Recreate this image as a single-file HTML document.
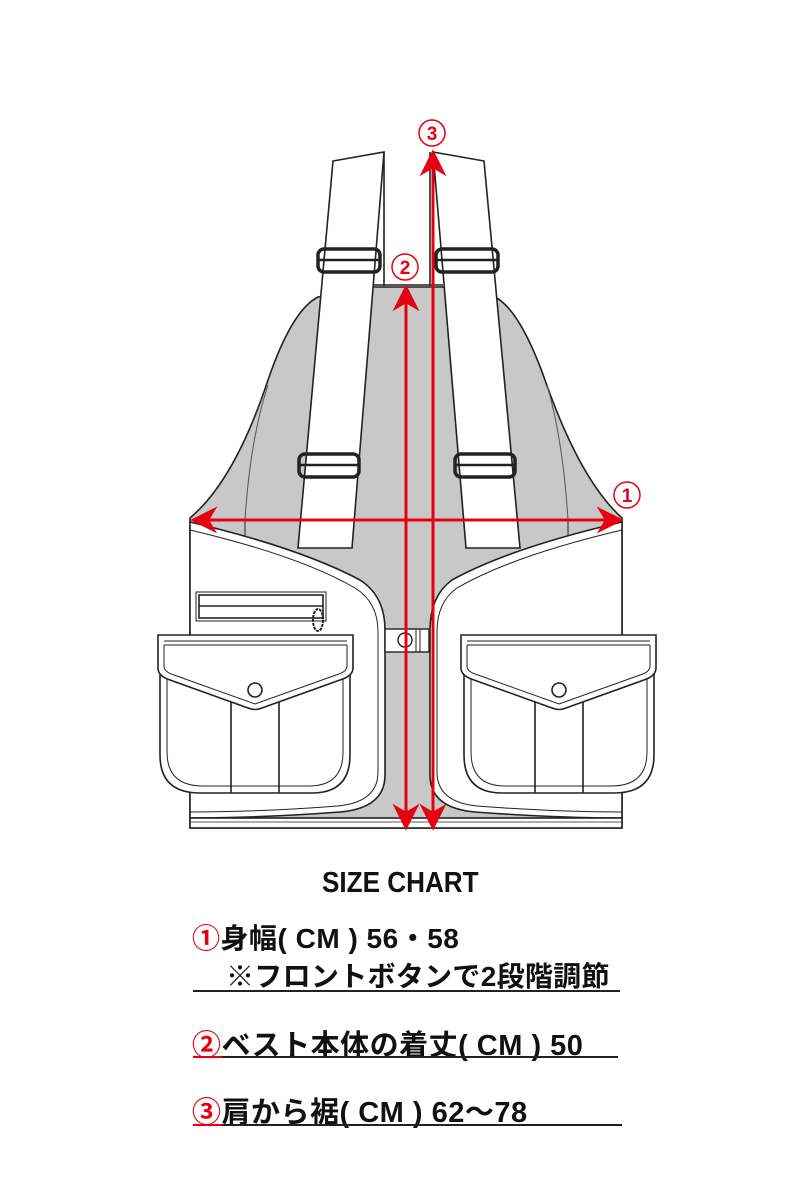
<!DOCTYPE html>
<html><head><meta charset="utf-8"><style>
html,body{margin:0;padding:0;background:#fff;width:800px;height:1200px;overflow:hidden}
.t{position:absolute;font-family:"Liberation Sans","Noto Sans CJK JP",sans-serif;font-weight:bold;color:#111;white-space:nowrap}
.c{color:#e60012}
.l{position:absolute;height:2px;background:#222}
</style></head><body>
<svg width="800" height="860" style="position:absolute;left:0;top:0" xmlns="http://www.w3.org/2000/svg">
<defs>
<g id="pocket" fill="#fff" stroke="#222" stroke-width="1.6">
<path d="M160,660 L160,755 Q160,793 200,793 L312,793 Q350,793 350,755 L350,660 Z"/>
<path d="M167,665 L167,752 Q167,786 203,786 L309,786 Q343,786 343,752 L343,665" fill="none" stroke-width="1"/>
<line x1="231" y1="700" x2="231" y2="793"/><line x1="279" y1="700" x2="279" y2="793"/>
<path d="M158,635 L353,635 L353,668 Q353,676 340,680 L262,708 Q255,711 248,708 L170,680 Q158,676 158,668 Z"/>
<path d="M164,641 L347,641 M164,645 L347,645 M164,645 L164,666 Q164,672 174,675 L255,704 L336,675 Q347,672 347,666 L347,645" fill="none" stroke-width="1"/>
<circle cx="255" cy="690" r="7"/>
</g>
<marker id="ah" viewBox="0 0 10 10" refX="9" refY="5" markerWidth="9" markerHeight="9" orient="auto-start-reverse"><path d="M0,0 L10,5 L0,10 L3,5 Z" fill="#e60012"/></marker>
</defs>
<path d="M372,287 L443,287 L495,297 Q520,310 545,380 Q580,480 622,518 L622,828 L190,828 L190,518 Q235,480 268,380 Q292,310 318,297 Z" fill="#c8c8c8" stroke="#222" stroke-width="1.6"/>
<path d="M268,385 Q250,440 245,520 M547,385 Q563,440 568,520" fill="none" stroke="#555" stroke-width="1"/>
<line x1="245" y1="520" x2="245" y2="560" stroke="#222"/><line x1="568" y1="520" x2="568" y2="560" stroke="#222"/>
<path d="M384,152 L384,286 M430,152 L430,286 M372,285 L443,285" stroke="#222" stroke-width="1.6" fill="none"/>
<rect x="385" y="152" width="44" height="132" fill="#fff"/>
<polygon points="333,161 384,152 352,548 298,548" fill="#fff" stroke="#222" stroke-width="1.6"/>
<polygon points="433,152 484,161 520,548 466,548" fill="#fff" stroke="#222" stroke-width="1.6"/>
<g fill="none" stroke="#222" stroke-width="3.5">
<rect x="318" y="249" width="62" height="23" rx="6"/><rect x="436" y="249" width="62" height="23" rx="6"/>
<rect x="299" y="454" width="60" height="23" rx="6"/><rect x="455" y="454" width="60" height="23" rx="6"/>
</g>
<g stroke="#222" stroke-width="2.5"><line x1="318" y1="260" x2="380" y2="260"/><line x1="436" y1="260" x2="498" y2="260"/><line x1="299" y1="465" x2="359" y2="465"/><line x1="455" y1="465" x2="515" y2="465"/></g>
<path d="M190,522 Q300,548 360,580 Q385,596 385,630 L385,775 Q385,808 340,812 Q260,818 190,818 Z" fill="#fff" stroke="#222" stroke-width="1.6"/>
<path d="M190,530 Q300,556 355,588 Q378,602 378,632 L378,772 Q378,802 338,806 Q260,812 190,812" fill="none" stroke="#222" stroke-width="1"/>
<path d="M622,522 Q510,548 452,580 Q430,596 430,630 L430,775 Q430,808 475,812 Q555,818 622,818 Z" fill="#fff" stroke="#222" stroke-width="1.6"/>
<path d="M622,530 Q512,556 457,588 Q437,602 437,632 L437,772 Q437,802 477,806 Q555,812 622,812" fill="none" stroke="#222" stroke-width="1"/>
<rect x="190" y="818" width="432" height="10" fill="#fff" stroke="#222" stroke-width="1.6"/>
<line x1="190" y1="822" x2="622" y2="822" stroke="#222" stroke-width="0.8"/>
<rect x="196" y="592" width="130" height="29" fill="#fff" stroke="#222" stroke-width="1"/>
<rect x="199" y="595" width="124" height="23" fill="#fff" stroke="#222" stroke-width="1.6"/>
<line x1="199" y1="606" x2="323" y2="606" stroke="#222" stroke-width="1.6"/>
<ellipse cx="318" cy="620" rx="5" ry="11" fill="none" stroke="#222" stroke-width="2" stroke-dasharray="3 1"/>
<rect x="385" y="629" width="44" height="23" fill="#fff" stroke="#222" stroke-width="1.4"/>
<circle cx="405" cy="640" r="7" fill="#fff" stroke="#222" stroke-width="1.4"/>
<line x1="416" y1="629" x2="416" y2="652" stroke="#222"/><line x1="420" y1="629" x2="420" y2="652" stroke="#222"/>
<use href="#pocket"/>
<use href="#pocket" transform="translate(814,0) scale(-1,1)"/>
<g stroke="#e60012" stroke-width="3" fill="none">
<line x1="193" y1="520" x2="621" y2="520" marker-start="url(#ah)" marker-end="url(#ah)"/>
<line x1="406" y1="287" x2="406" y2="828" marker-start="url(#ah)" marker-end="url(#ah)"/>
<line x1="433" y1="152" x2="433" y2="828" marker-start="url(#ah)" marker-end="url(#ah)"/>
</g>
<g fill="#fff" stroke="#e60012" stroke-width="1.5">
<circle cx="432" cy="133" r="13"/><circle cx="405" cy="267" r="13"/><circle cx="627" cy="495" r="13"/>
</g>
<g fill="#e60012" font-family="Liberation Sans,sans-serif" font-weight="bold" font-size="19" text-anchor="middle">
<text x="432" y="140">3</text><text x="405" y="274">2</text><text x="627" y="502">1</text>
</g>
</svg>
<div class="t" style="left:322px;top:867px;font-size:29px;transform:scaleX(0.9);transform-origin:0 0">SIZE CHART</div>
<div class="t" style="left:192px;top:917px;font-size:28px;letter-spacing:0.5px"><span class="c">①</span>身幅( CM ) 56・58</div>
<div class="t" style="left:226px;top:955px;font-size:28px;letter-spacing:0.3px">※フロントボタンで2段階調節</div>
<div class="l" style="left:193px;top:990px;width:427px"></div>
<div class="t" style="left:192px;top:1022px;font-size:29px;letter-spacing:0.5px"><span class="c">②</span>ベスト本体の着丈( CM ) 50</div>
<div class="l" style="left:193px;top:1056px;width:425px"></div>
<div class="l" style="left:193px;top:1056px;width:29px;background:#e60012"></div>
<div class="t" style="left:192px;top:1089px;font-size:29px;letter-spacing:0.5px"><span class="c">③</span>肩から裾( CM ) 62〜78</div>
<div class="l" style="left:193px;top:1124px;width:429px"></div>
<div class="l" style="left:193px;top:1124px;width:29px;background:#e60012"></div>
</body></html>
